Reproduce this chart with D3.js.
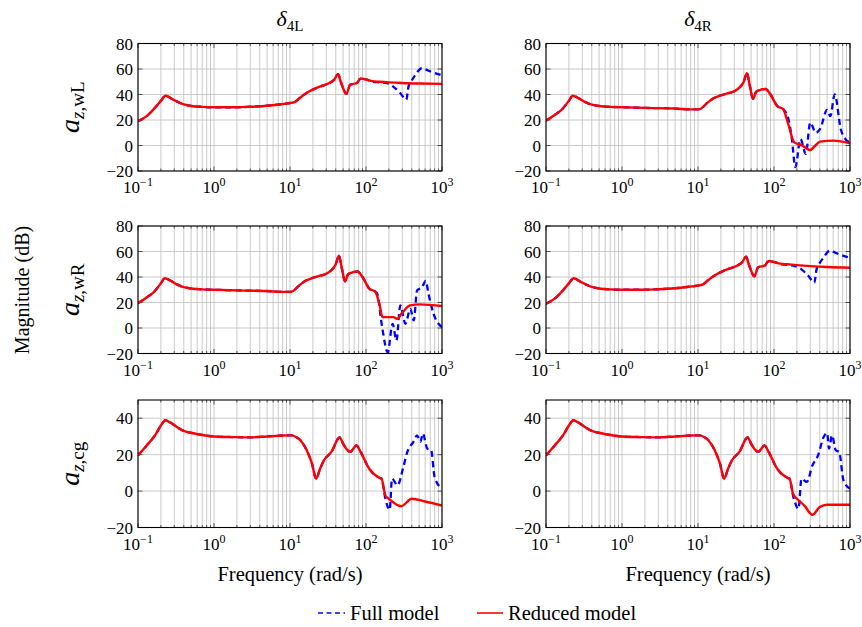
<!DOCTYPE html>
<html>
<head>
<meta charset="utf-8">
<script src="https://cdn.jsdelivr.net/npm/d3@7"></script>
<style>
body { margin: 0; background: #fff; }
</style>
</head>
<body>
<svg id="chart" width="862" height="627" style="font-family: 'Liberation Serif', 'DejaVu Serif', serif"></svg>
<script>
// ---------------------------------------------------------------
// Data (frequency in rad/s, magnitude in dB)
// ---------------------------------------------------------------

// Shape A: a_z,wL due to delta_4L (also a_z,wR due to delta_4R)
var lowFreqA = [0.1, 0.13, 0.16, 0.2, 0.23, 0.29, 0.4, 0.5, 0.7, 1, 2, 3, 5, 8, 10, 11.5, 13, 15, 18, 22, 27, 33, 38, 43, 46, 50, 55, 62, 76, 85, 103];
var lowMagA  = [19, 23, 28.3, 35, 39, 36, 32.2, 31, 30.3, 30, 30, 30.4, 31.2, 32.5, 33.3, 34, 36.5, 39.5, 42.5, 45, 47, 49, 51.5, 56, 51, 45, 40.5, 47.7, 49, 52.6, 51.6];

// Shape B: a_z,wR due to delta_4L (also a_z,wL due to delta_4R)
var lowFreqB = [0.1, 0.13, 0.16, 0.2, 0.225, 0.27, 0.33, 0.4, 0.5, 0.7, 1, 2, 5, 8, 10, 11, 13, 16, 20, 25, 30, 36, 40, 44, 48, 53, 58, 65, 77, 90, 110, 132];
var lowMagB  = [19.5, 24, 28, 35, 39, 37, 34, 32, 31, 30.3, 30, 29.5, 29, 28.3, 28.3, 29, 33, 37, 39.4, 41, 42.5, 46, 50, 56.8, 47, 36.6, 42, 43.5, 44.3, 40, 31, 28.5];

// Shape C: a_z,cg (both inputs)
var lowFreqC = [0.1, 0.13, 0.17, 0.2, 0.23, 0.27, 0.33, 0.4, 0.5, 0.7, 1, 2, 3, 5, 8, 10.5, 12, 13.7, 16.6, 19.5, 22, 25, 28, 35, 45, 50, 55, 62, 75, 85, 110, 150, 160];
var lowMagC  = [19.6, 25, 31, 36, 38.9, 37.5, 35, 33, 32, 30.8, 30, 29.6, 29.5, 30, 30.5, 30.6, 29.7, 27.9, 22.4, 15, 6.8, 12.5, 16.9, 21.5, 29.4, 26, 23.3, 21.5, 25.1, 21.5, 12.3, 7.3, 6.8];

// High-frequency tails, one pair per panel
var redFreq1  = [120, 150, 200, 300, 500, 1000];
var redMag1   = [50.5, 50, 49.5, 49, 48.6, 48.3];
var blueFreq1 = [120, 150, 189, 230, 282, 339, 363, 400, 446, 543, 620, 708, 955, 1000];
var blueMag1  = [50, 49.5, 49, 46, 41.2, 36, 46.4, 51, 55.4, 60.6, 59.5, 58, 55.4, 55];

var redFreq2  = [152, 185, 234, 300, 350, 405, 613, 1000];
var redMag2   = [18, 2.5, 0, -3.5, 0, 3, 3.8, 1.7];
var blueFreq2 = [155, 172, 191, 223, 262, 300, 355, 405, 500, 550, 630, 755, 870, 1000];
var blueMag2  = [20.6, 5, -17, 5, -6.6, 18, 10, 13, 28, 23, 40, 13, 5, 2.5];

var redFreq3  = [150, 165, 230, 256, 300, 380, 510, 1000];
var redMag3   = [19, 8.5, 8.5, 7.2, 12, 17.7, 18.5, 17.2];
var blueFreq3 = [140, 163, 193, 224, 251, 283, 330, 383, 425, 470, 548, 610, 665, 775, 1000];
var blueMag3  = [27, 0.7, -19, 3.3, -9.8, 17.7, 3.3, 15, 6, 29.5, 32, 37, 26.6, 11, 0.7];

var redFreq4  = [120, 150, 200, 300, 500, 1000];
var redMag4   = [50.5, 50, 49.3, 48.5, 47.8, 47.3];
var blueFreq4 = [120, 150, 189, 230, 282, 339, 363, 400, 446, 543, 620, 708, 955, 1000];
var blueMag4  = [50, 49.5, 48.5, 46, 41, 35.5, 46, 51, 55, 60.6, 59.5, 58, 55.4, 55];

var redFreq5  = [180, 200, 290, 400, 600, 1000];
var redMag5   = [-2.4, -4.2, -8.3, -4.2, -5.7, -7.9];
var blueFreq5 = [180, 205, 220, 260, 310, 350, 420, 470, 520, 560, 640, 720, 800, 1000];
var blueMag5  = [-4.2, -10.3, 6.8, 3.1, 13.2, 21.5, 27, 30.6, 27, 31.6, 23.3, 22.4, 7.7, 1.3];

var redFreq6  = [178, 200, 250, 320, 400, 500, 1000];
var redMag6   = [-1.5, -4.2, -7.9, -13, -8.8, -7.5, -7.5];
var blueFreq6 = [180, 210, 230, 270, 320, 380, 450, 500, 530, 580, 650, 720, 820, 1000];
var blueMag6  = [-3.3, -9.7, 6.8, 5, 14, 19.6, 29.7, 31.9, 23.3, 30.6, 22.4, 21.5, 5.9, 1.3];

var columnTitles = [["δ", "4L"], ["δ", "4R"]];
var rowLabels = [["a", "z", ",wL"], ["a", "z", ",wR"], ["a", "z", ",cg"]];
var yTicksTall = [-20, 0, 20, 40, 60, 80];
var yTicksShort = [-20, 0, 20, 40];
var xDecades = [-1, 0, 1, 2, 3];
var legendLabels = ["Full model", "Reduced model"];

// ---------------------------------------------------------------
// Layout
// ---------------------------------------------------------------
var colLeft = [138, 546];
var plotWidth = 304;
var rowTop = [43.5, 226, 400];
var plotHeight = 127.5;
var serif = "'Liberation Serif', 'DejaVu Serif', serif";

var blue = "#0000ff", red = "#ff0000";

function zipCurve(freqs, mags) {
    return freqs.map(function(f, i) { return {f: f, m: mags[i]}; });
}

function joinCurve(lowF, lowM, tailF, tailM) {
    return zipCurve(lowF.concat(tailF), lowM.concat(tailM));
}

var panels = [
    {row: 0, col: 0, full: joinCurve(lowFreqA, lowMagA, blueFreq1, blueMag1), reduced: joinCurve(lowFreqA, lowMagA, redFreq1, redMag1)},
    {row: 0, col: 1, full: joinCurve(lowFreqB, lowMagB, blueFreq2, blueMag2), reduced: joinCurve(lowFreqB, lowMagB, redFreq2, redMag2)},
    {row: 1, col: 0, full: joinCurve(lowFreqB, lowMagB, blueFreq3, blueMag3), reduced: joinCurve(lowFreqB, lowMagB, redFreq3, redMag3)},
    {row: 1, col: 1, full: joinCurve(lowFreqA, lowMagA, blueFreq4, blueMag4), reduced: joinCurve(lowFreqA, lowMagA, redFreq4, redMag4)},
    {row: 2, col: 0, full: joinCurve(lowFreqC, lowMagC, blueFreq5, blueMag5), reduced: joinCurve(lowFreqC, lowMagC, redFreq5, redMag5)},
    {row: 2, col: 1, full: joinCurve(lowFreqC, lowMagC, blueFreq6, blueMag6), reduced: joinCurve(lowFreqC, lowMagC, redFreq6, redMag6)}
];

var svg = d3.select("#chart");

// minor + major tick positions on the log axis
var gridFreqs = [];
xDecades.slice(0, -1).forEach(function(d) {
    for (var k = 1; k <= 9; k++) gridFreqs.push(k * Math.pow(10, d));
});
gridFreqs.push(1000);

function addText(parent) {
    return parent.append("text").attr("font-family", serif).style("font-family", serif).style("fill", "#000");
}

function drawPanel(p) {
    var x0 = colLeft[p.col], y0 = rowTop[p.row];
    var yTicks = p.row == 2 ? yTicksShort : yTicksTall;
    var yMax = p.row == 2 ? 50 : 80;

    var x = d3.scaleLog().domain([0.1, 1000]).range([0, plotWidth]);
    var y = d3.scaleLinear().domain([-20, yMax]).range([plotHeight, 0]);

    var g = svg.append("g").attr("transform", "translate(" + x0 + "," + y0 + ")");

    // Grid
    g.selectAll(".vgrid").data(gridFreqs).enter().append("line")
        .attr("x1", function(f) { return x(f); }).attr("x2", function(f) { return x(f); })
        .attr("y1", 0).attr("y2", plotHeight)
        .style("stroke", "#c4c4c4").style("stroke-width", 0.9);
    g.selectAll(".hgrid").data(yTicks).enter().append("line")
        .attr("x1", 0).attr("x2", plotWidth)
        .attr("y1", function(v) { return y(v); }).attr("y2", function(v) { return y(v); })
        .style("stroke", "#c4c4c4").style("stroke-width", 0.9);

    // Inward ticks on all four sides
    var isMajor = function(f) { return Math.abs(Math.log10(f) - Math.round(Math.log10(f))) < 1e-9; };
    gridFreqs.forEach(function(f) {
        var len = isMajor(f) ? 4.5 : 2.5;
        g.append("line").attr("x1", x(f)).attr("x2", x(f)).attr("y1", plotHeight).attr("y2", plotHeight - len)
            .style("stroke", "#333").style("stroke-width", 0.8);
        g.append("line").attr("x1", x(f)).attr("x2", x(f)).attr("y1", 0).attr("y2", len)
            .style("stroke", "#333").style("stroke-width", 0.8);
    });
    yTicks.forEach(function(v) {
        g.append("line").attr("x1", 0).attr("x2", 4.5).attr("y1", y(v)).attr("y2", y(v))
            .style("stroke", "#333").style("stroke-width", 0.8);
        g.append("line").attr("x1", plotWidth).attr("x2", plotWidth - 4.5).attr("y1", y(v)).attr("y2", y(v))
            .style("stroke", "#333").style("stroke-width", 0.8);
    });

    // Curves
    var line = d3.line()
        .x(function(d) { return x(d.f); })
        .y(function(d) { return y(d.m); })
        .curve(d3.curveMonotoneX);

    var clipId = "clip" + p.row + p.col;
    g.append("clipPath").attr("id", clipId).append("rect")
        .attr("x", 0).attr("y", -2).attr("width", plotWidth).attr("height", plotHeight + 4);

    g.append("path").datum(p.full)
        .attr("clip-path", "url(#" + clipId + ")")
        .attr("d", line)
        .style("fill", "none").style("stroke", blue).style("stroke-width", 2.3)
        .style("stroke-dasharray", "6,4");
    g.append("path").datum(p.reduced)
        .attr("clip-path", "url(#" + clipId + ")")
        .attr("d", line)
        .style("fill", "none").style("stroke", red).style("stroke-width", 2.4)
        .style("stroke-linejoin", "round");

    // Frame
    g.append("rect").attr("width", plotWidth).attr("height", plotHeight)
        .style("fill", "none").style("stroke", "#000").style("stroke-width", 1.1);

    // Y tick labels
    yTicks.forEach(function(v) {
        addText(g).attr("x", -5).attr("y", y(v))
            .attr("dy", "0.36em")
            .style("text-anchor", "end").style("font-size", "17px")
            .text(v < 0 ? "\u2212" + Math.abs(v) : v);
    });

    // X tick labels: 10^n
    xDecades.forEach(function(d) {
        var t = addText(g)
            .attr("x", x(Math.pow(10, d))).attr("y", plotHeight + 22)
            .style("text-anchor", "middle").style("font-size", "17px");
        t.append("tspan").text("10");
        t.append("tspan").attr("dy", -7).style("font-size", "12px")
            .text(d < 0 ? "\u2212" + Math.abs(d) : d);
    });
}

panels.forEach(drawPanel);

// Column titles
columnTitles.forEach(function(t, i) {
    var txt = addText(svg)
        .attr("x", colLeft[i] + plotWidth / 2).attr("y", 26)
        .style("text-anchor", "middle").style("font-size", "22px");
    txt.append("tspan").style("font-style", "italic").text(t[0]);
    txt.append("tspan").attr("dy", 5).style("font-size", "15px").text(t[1]);
});

// Row labels (rotated)
rowLabels.forEach(function(r, i) {
    var cy = rowTop[i] + plotHeight / 2;
    var txt = addText(svg)
        .attr("transform", "translate(79," + cy + ") rotate(-90)")
        .style("text-anchor", "middle").style("font-size", "28px");
    txt.append("tspan").style("font-style", "italic").text(r[0]);
    txt.append("tspan").attr("dy", 5).style("font-size", "19px").style("font-style", "italic").text(r[1]);
    txt.append("tspan").style("font-size", "19px").text(r[2]);
});

addText(svg)
    .attr("transform", "translate(29,290) rotate(-90)")
    .style("text-anchor", "middle").style("font-size", "20px")
    .text("Magnitude (dB)");

colLeft.forEach(function(cx) {
    addText(svg)
        .attr("x", cx + plotWidth / 2).attr("y", 581)
        .style("text-anchor", "middle").style("font-size", "20.5px")
        .text("Frequency (rad/s)");
});

// Legend
var legend = svg.append("g");
legend.append("line").attr("x1", 318).attr("x2", 345).attr("y1", 613).attr("y2", 613)
    .style("stroke", blue).style("stroke-width", 1.6).style("stroke-dasharray", "5,3.5");
addText(legend).attr("x", 350).attr("y", 620).style("font-size", "20.5px").text(legendLabels[0]);
legend.append("line").attr("x1", 477).attr("x2", 503).attr("y1", 613).attr("y2", 613)
    .style("stroke", red).style("stroke-width", 1.6);
addText(legend).attr("x", 508).attr("y", 620).style("font-size", "20.5px").text(legendLabels[1]);
</script>
</body>
</html>
